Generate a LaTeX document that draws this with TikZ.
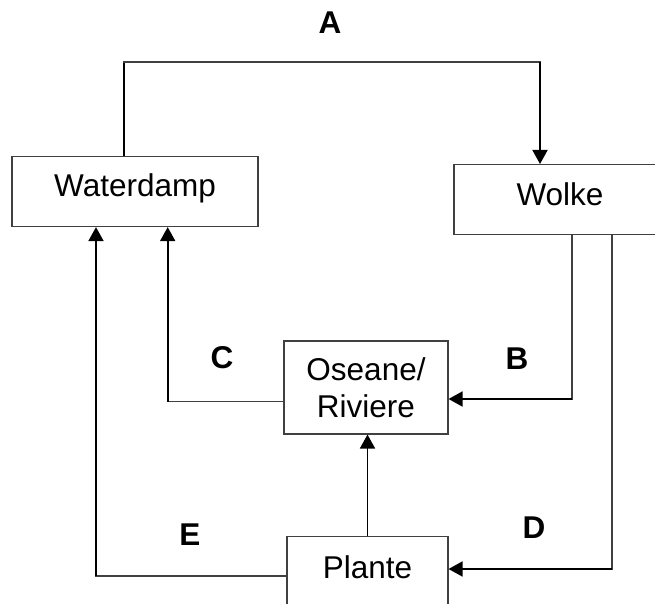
\documentclass[tikz,border=0pt]{standalone}
\usepackage{fontspec}
\setmainfont{Liberation Sans}
\usetikzlibrary{arrows.meta}

\tikzset{
  blok/.style={draw=black!75, line width=1.1pt, inner xsep=0pt, align=center,
    font=\fontsize{31.5}{37.5}\selectfont},
  lyn/.style={draw=black!75, line width=1.1pt, line cap=rect},
  skag/.style={draw=black, line width=1.8pt},
  pyl/.style={skag, -{Triangle[length=14pt,width=15pt]}},
  letter/.style={font=\fontsize{31.5}{37.5}\selectfont\bfseries, inner sep=0pt}
}

\begin{document}
\begin{tikzpicture}[x=1pt, y=-1pt]
			\clip (0,0) rectangle (655,604);
			% boxes
			\node[blok, anchor=north, minimum width=246pt, inner ysep=17pt, text height=23pt, text depth=13pt] (waterdamp) at (135,156) {Waterdamp};
			\node[blok, anchor=north, minimum width=212pt, inner ysep=18pt, text height=23pt, text depth=11pt] (wolke) at (560,164) {Wolke};
			\node[blok, minimum width=164pt, minimum height=93pt, inner ysep=0pt] (oseane) at (366,387.5) {Oseane/\\Riviere};
			\node[blok, anchor=north, minimum width=161pt, inner ysep=19pt, text height=23pt, text depth=60pt] (plante) at (367.5,536) {Plante};
			% corners
			\coordinate (hoekA1) at (124,62);
			\coordinate (hoekA2) at (540,62);
			\coordinate (hoekB) at (572,399);
			\coordinate (hoekC) at (167.7,401.7);
			\coordinate (hoekD) at (612,569);
			\coordinate (hoekE) at (96,576);
			% A
			\draw[skag] (waterdamp.north -| hoekA1) -- (hoekA1);
			\draw[lyn] (hoekA1) -- (hoekA2);
			\draw[pyl] (hoekA2) -- (wolke.north -| hoekA2);
			% B
			\draw[lyn] (wolke.south -| hoekB) -- (hoekB);
			\draw[pyl] (hoekB) -- (oseane.east |- hoekB);
			% C
			\draw[lyn] (oseane.west |- hoekC) -- (hoekC);
			\draw[pyl] (hoekC) -- (waterdamp.south -| hoekC);
			% D
			\draw[lyn] (wolke.south -| hoekD) -- (hoekD);
			\draw[pyl] (hoekD) -- (plante.east |- hoekD);
			% E
			\draw[lyn] (plante.west |- hoekE) -- (hoekE);
			\draw[pyl] (hoekE) -- (waterdamp.south -| hoekE);
			% plante to oseane
			\draw[pyl] (plante.north) -- (plante.north |- oseane.south);
			% labels
			\node[letter] (lblA) at (330,23) {A};
			\node[letter] (lblB) at (517,359) {B};
			\node[letter] (lblC) at (222,358) {C};
			\node[letter] (lblD) at (534,528) {D};
			\node[letter] (lblE) at (190,535) {E};
		\end{tikzpicture}
\end{document}
